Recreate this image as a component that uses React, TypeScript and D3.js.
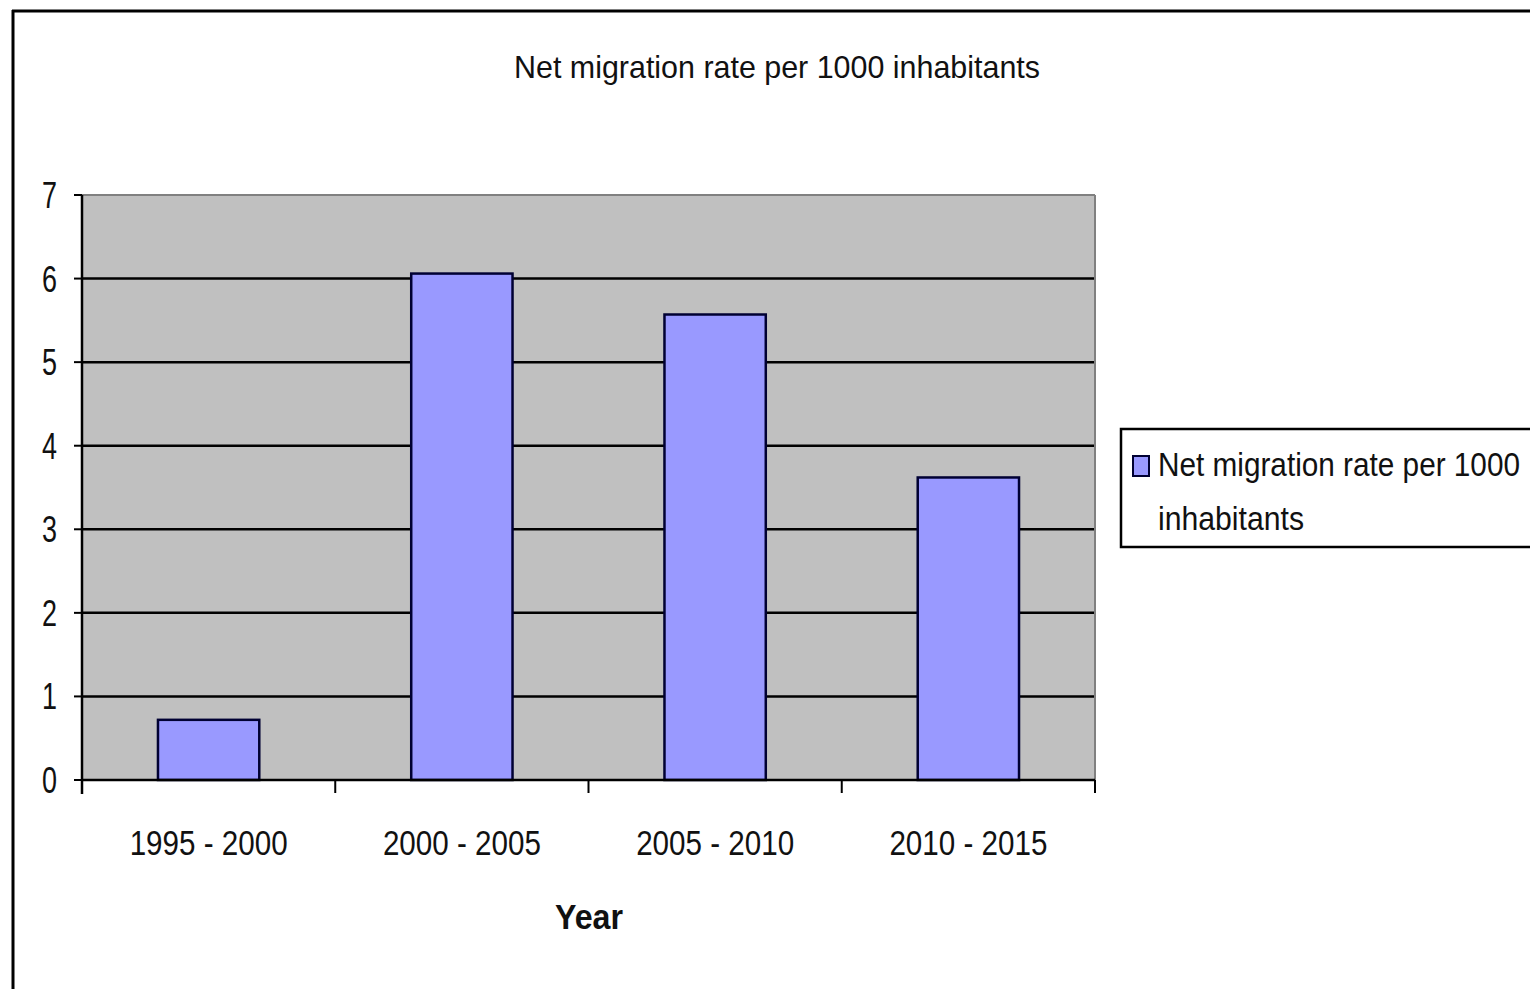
import React from "react";
import * as d3 from "d3";

const categories = ["1995 - 2000", "2000 - 2005", "2005 - 2010", "2010 - 2015"];
const values = [0.72, 6.06, 5.57, 3.62];
const yTicks = [0, 1, 2, 3, 4, 5, 6, 7];
const titleText = "Net migration rate per 1000 inhabitants";
const legendLines = ["Net migration rate per 1000", "inhabitants"];
const xTitle = "Year";

const W = 1530;
const H = 989;
const plot = { left: 82, right: 1095, top: 195, bottom: 780 };
const FONT = "'Liberation Sans Narrow', 'Arial Narrow', 'Liberation Sans', Arial, sans-serif";

export default function App() {
  const x = d3
    .scaleBand<string>()
    .domain(categories)
    .range([plot.left, plot.right])
    .paddingInner(0.6)
    .paddingOuter(0.3);
  const y = d3.scaleLinear().domain([0, 7]).range([plot.bottom, plot.top]);
  const step = (plot.right - plot.left) / categories.length;
  const boundaries = d3.range(categories.length + 1).map((i) => plot.left + i * step);

  return (
    <svg
      width={W}
      height={H}
      style={{ position: "absolute", left: 0, top: 0, background: "#fff" }}
      fontFamily={FONT}
    >
      <rect x={0} y={0} width={W} height={H} fill="#fff" />
      {/* outer frame */}
      <line x1={12} x2={W} y1={11} y2={11} stroke="#000" strokeWidth={3} />
      <line x1={13} x2={13} y1={10} y2={H} stroke="#000" strokeWidth={3} />

      {/* title */}
      <text x={777} y={78} textAnchor="middle" fontSize={32} fill="#111" textLength={526} lengthAdjust="spacingAndGlyphs">
        {titleText}
      </text>

      {/* plot area */}
      <rect x={plot.left} y={plot.top} width={plot.right - plot.left} height={plot.bottom - plot.top} fill="#c0c0c0" />
      {yTicks.filter((t) => t > 0 && t < 7).map((t) => (
        <line key={t} x1={plot.left} x2={plot.right} y1={y(t)} y2={y(t)} stroke="#000" strokeWidth={2.5} />
      ))}
      <line x1={plot.left} x2={plot.right} y1={y(7)} y2={y(7)} stroke="#808080" strokeWidth={2} />
      <line x1={plot.right} x2={plot.right} y1={plot.top} y2={plot.bottom} stroke="#808080" strokeWidth={2} />

      {/* bars */}
      {values.map((v, i) => (
        <rect
          key={categories[i]}
          x={x(categories[i])!}
          y={y(v)}
          width={x.bandwidth()}
          height={y(0) - y(v)}
          fill="#9999ff"
          stroke="#000033"
          strokeWidth={2.5}
        />
      ))}

      {/* axes */}
      <line x1={plot.left} x2={plot.left} y1={plot.top} y2={plot.bottom + 14} stroke="#000" strokeWidth={2.5} />
      <line x1={plot.left} x2={plot.right} y1={plot.bottom} y2={plot.bottom} stroke="#000" strokeWidth={2.5} />
      {yTicks.map((t) => (
        <g key={t}>
          <line x1={plot.left - 8} x2={plot.left} y1={y(t)} y2={y(t)} stroke="#000" strokeWidth={2} />
          <text x={57} y={y(t) + 13} textAnchor="end" fontSize={37} fill="#111" textLength={15} lengthAdjust="spacingAndGlyphs">
            {t}
          </text>
        </g>
      ))}
      {boundaries.map((b, i) => (
        <line key={i} x1={b} x2={b} y1={plot.bottom} y2={plot.bottom + 13} stroke="#000" strokeWidth={2} />
      ))}
      {categories.map((c) => (
        <text
          key={c}
          x={x(c)! + x.bandwidth() / 2}
          y={855}
          textAnchor="middle"
          fontSize={35}
          fill="#111"
          textLength={158}
          lengthAdjust="spacingAndGlyphs"
        >
          {c}
        </text>
      ))}
      <text x={589} y={929} textAnchor="middle" fontSize={35} fontWeight="bold" fill="#111" textLength={68} lengthAdjust="spacingAndGlyphs">
        {xTitle}
      </text>

      {/* legend */}
      <rect x={1121} y={429} width={W - 1121 + 5} height={118} fill="#fff" stroke="#000" strokeWidth={2.5} />
      <rect x={1133} y={456} width={16} height={20} fill="#9999ff" stroke="#000033" strokeWidth={2} />
      <text x={1158} y={476} fontSize={33} fill="#111" textLength={362} lengthAdjust="spacingAndGlyphs">
        {legendLines[0]}
      </text>
      <text x={1158} y={530} fontSize={33} fill="#111" textLength={146} lengthAdjust="spacingAndGlyphs">
        {legendLines[1]}
      </text>
    </svg>
  );
}
